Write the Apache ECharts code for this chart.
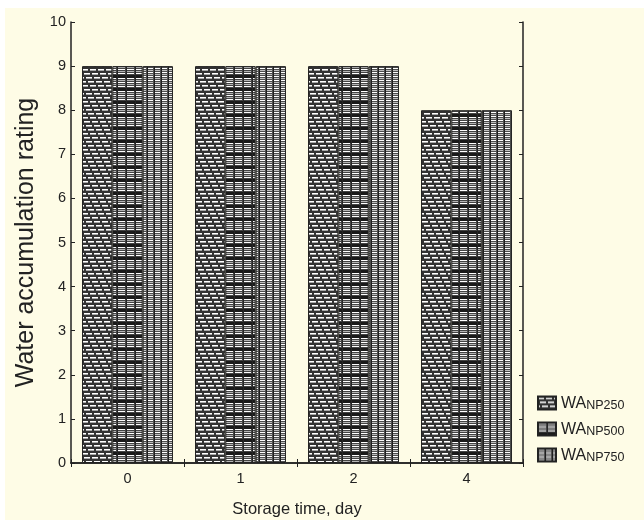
<!DOCTYPE html>
<html><head><meta charset="utf-8">
<script src="https://cdn.jsdelivr.net/npm/echarts@6/dist/echarts.min.js"></script>
<style>html,body{margin:0;padding:0;background:#fff}#c{width:644px;height:523px}</style>
</head><body><div id="c"></div>
<script>
const categories = ['0', '1', '2', '4'];
const seriesNames = ['NP250', 'NP500', 'NP750'];
const valuesNP250 = [9, 9, 9, 8];
const valuesNP500 = [9, 9, 9, 8];
const valuesNP750 = [9, 9, 9, 8];
const yTicks = [0, 1, 2, 3, 4, 5, 6, 7, 8, 9, 10];

function makeTile(w, h, draw) {
  const c = document.createElement('canvas');
  c.width = w; c.height = h;
  const g = c.getContext('2d');
  draw(g, w, h);
  return { image: c, repeat: 'repeat' };
}
// brick / diagonal pattern
const pat1 = makeTile(8, 16, (g, w, h) => {
  g.fillStyle = '#333'; g.fillRect(0, 0, w, h);
  for (let r = 0; r < 4; r++) {
    const y = r * 4 + 1;
    const off = (r * 2) % w;
    for (let i = 0; i < 6; i++) {
      const x = (off + i) % w;
      g.fillStyle = '#ffffff'; g.fillRect(x, y, 1, 1);
      g.fillStyle = '#a8a8a8'; g.fillRect(x, y + 1, 1, 1);
    }
  }
});
// horizontal lines with thick dark bands
const pat2 = makeTile(9, 13, (g, w, h) => {
  g.fillStyle = '#444'; g.fillRect(0, 0, w, h);
  for (let y = 0; y < 10; y += 2) {
    g.fillStyle = (y % 4 === 0) ? '#ffffff' : '#b5b5b5';
    g.fillRect(1, y, 7, 1);
  }
  g.fillStyle = '#1a1a1a'; g.fillRect(0, 10, w, 3);
  g.fillStyle = '#262626'; g.fillRect(0, 0, 1, h);
});
// grid pattern
const pat3 = makeTile(7, 4, (g, w, h) => {
  g.fillStyle = '#4d4d4d'; g.fillRect(0, 0, w, h);
  g.fillStyle = '#ffffff'; g.fillRect(1, 0, 5, 1);
  g.fillStyle = '#c0c0c0'; g.fillRect(1, 2, 5, 1);
  g.fillStyle = '#1e1e1e'; g.fillRect(0, 0, 1, h);
});
const pats = [pat1, pat2, pat3];
const vals = [valuesNP250, valuesNP500, valuesNP750];

const chart = echarts.init(document.getElementById('c'), null, { renderer: 'canvas' });
const axisLine = { show: true, lineStyle: { color: '#222', width: 1.5 } };
chart.setOption({
  backgroundColor: '#ffffff',
  animation: false,
  graphic: [{ type: 'rect', z: -10, silent: true, shape: { x: 5, y: 8, width: 639, height: 512 }, style: { fill: '#fefce6' } }],
  grid: { left: 71, right: 121, top: 22, bottom: 60, containLabel: false },
  legend: {
    orient: 'vertical', left: 537, top: 392, itemWidth: 18, itemHeight: 13, itemGap: 6,
    padding: 0,
    icon: 'rect',
    data: seriesNames,
    formatter: n => '{a|WA}{b|' + n + '}',
    textStyle: {
      color: '#222', fontFamily: 'Liberation Sans, Arial', padding: [0, 0, 0, 0],
      rich: {
        a: { fontSize: 16, fontFamily: 'Liberation Sans', color: '#222', verticalAlign: 'bottom', lineHeight: 18 },
        b: { fontSize: 12.5, fontFamily: 'Liberation Sans', color: '#222', verticalAlign: 'bottom', lineHeight: 18, padding: [7, 0, 0, 0] }
      }
    }
  },
  xAxis: [{
    type: 'category', data: categories, position: 'bottom',
    axisLine, axisTick: { show: true, inside: true, length: 4, lineStyle: { color: '#222' } },
    axisLabel: { color: '#222', fontSize: 14.5, fontFamily: 'Liberation Sans', margin: 8 },
    name: 'Storage time, day', nameLocation: 'middle', nameGap: 38,
    nameTextStyle: { color: '#222', fontSize: 16.5, fontFamily: 'Liberation Sans' }
  }, {
    type: 'category', data: categories, position: 'top',
    axisLine, axisTick: { show: true, inside: true, length: 4, lineStyle: { color: '#222' } },
    axisLabel: { show: false }
  }],
  yAxis: [{
    type: 'value', min: 0, max: 10, interval: 1, position: 'left',
    axisLine, axisTick: { show: true, inside: true, length: 4, lineStyle: { color: '#222' } },
    splitLine: { show: false },
    axisLabel: { color: '#222', fontSize: 14.5, fontFamily: 'Liberation Sans', margin: 5, formatter: v => yTicks.includes(v) ? String(v) : '' },
    name: 'Water accumulation rating', nameLocation: 'middle', nameGap: 31,
    nameTextStyle: { color: '#222', fontSize: 25, fontFamily: 'Liberation Sans' }
  }, {
    type: 'value', min: 0, max: 10, interval: 1, position: 'right',
    axisLine, axisTick: { show: true, inside: true, length: 4, lineStyle: { color: '#222' } },
    splitLine: { show: false }, axisLabel: { show: false }
  }],
  series: seriesNames.map((n, i) => ({
    name: n, type: 'bar', data: vals[i], barGap: '0%', barCategoryGap: '19.5%',
    itemStyle: { color: pats[i], borderColor: '#222', borderWidth: 1 }
  }))
});
</script></body></html>
